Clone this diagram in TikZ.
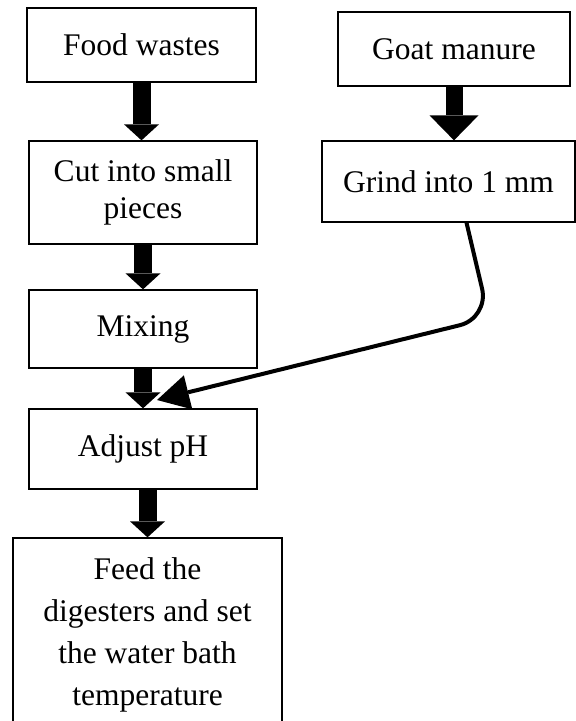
\documentclass[tikz,border=0pt]{standalone}
\usepackage{fontspec}
\setmainfont{Liberation Serif}
\usetikzlibrary{arrows.meta}
\begin{document}
\begin{tikzpicture}[x=1pt,y=-1pt,
  box/.style={draw, line width=1.3pt, inner sep=0pt, align=center,
    font=\fontsize{31.5}{37}\selectfont},
  blockarrow/.style={line width=18pt,
    -{Triangle[width=35pt,length=16pt,line width=0pt]}},
  bigblockarrow/.style={line width=17pt,
    -{Triangle[width=49pt,length=25pt,line width=0pt]}},
  joinline/.style={line width=4pt, rounded corners=30pt,
    -{Triangle[width=35pt,length=32pt,line width=0pt]}}
]
\useasboundingbox (0,0) rectangle (576,721);

\node[box, minimum width=229pt, minimum height=74pt] (food) at (141.5,45) {Food wastes};
\node[box, minimum width=232pt, minimum height=74pt] (goat) at (454,49) {Goat manure};
\node[box, minimum width=228pt, minimum height=103pt] (cut) at (143,192.5) {Cut into small\\pieces};
\node[box, minimum width=253pt, minimum height=81pt] (grind) at (448.5,181.5) {Grind into 1 mm};
\node[box, minimum width=228pt, minimum height=78pt] (mix) at (143,329) {Mixing};
\node[box, minimum width=228pt, minimum height=80pt] (adj) at (143,449) {Adjust pH};
\node[box, minimum width=269pt, minimum height=194pt,
  font=\fontsize{31.5}{42}\selectfont] (feed) at (147.5,635)
  {Feed the\\digesters and set\\the water bath\\temperature};

\coordinate (bend) at (489,318);
\coordinate (merge) at (157,400);

\draw[blockarrow] (food.south) -- (food.south |- cut.north);
\draw[bigblockarrow] (goat.south) -- (goat.south |- grind.north);
\draw[blockarrow] (cut.south) -- (mix.north);
\draw[blockarrow] (mix.south) -- (adj.north);
\draw[blockarrow] (adj.south -| feed.north) -- (feed.north);
\draw[joinline] ([xshift=18pt]grind.south) -- (bend) -- (merge);
\end{tikzpicture}
\end{document}
